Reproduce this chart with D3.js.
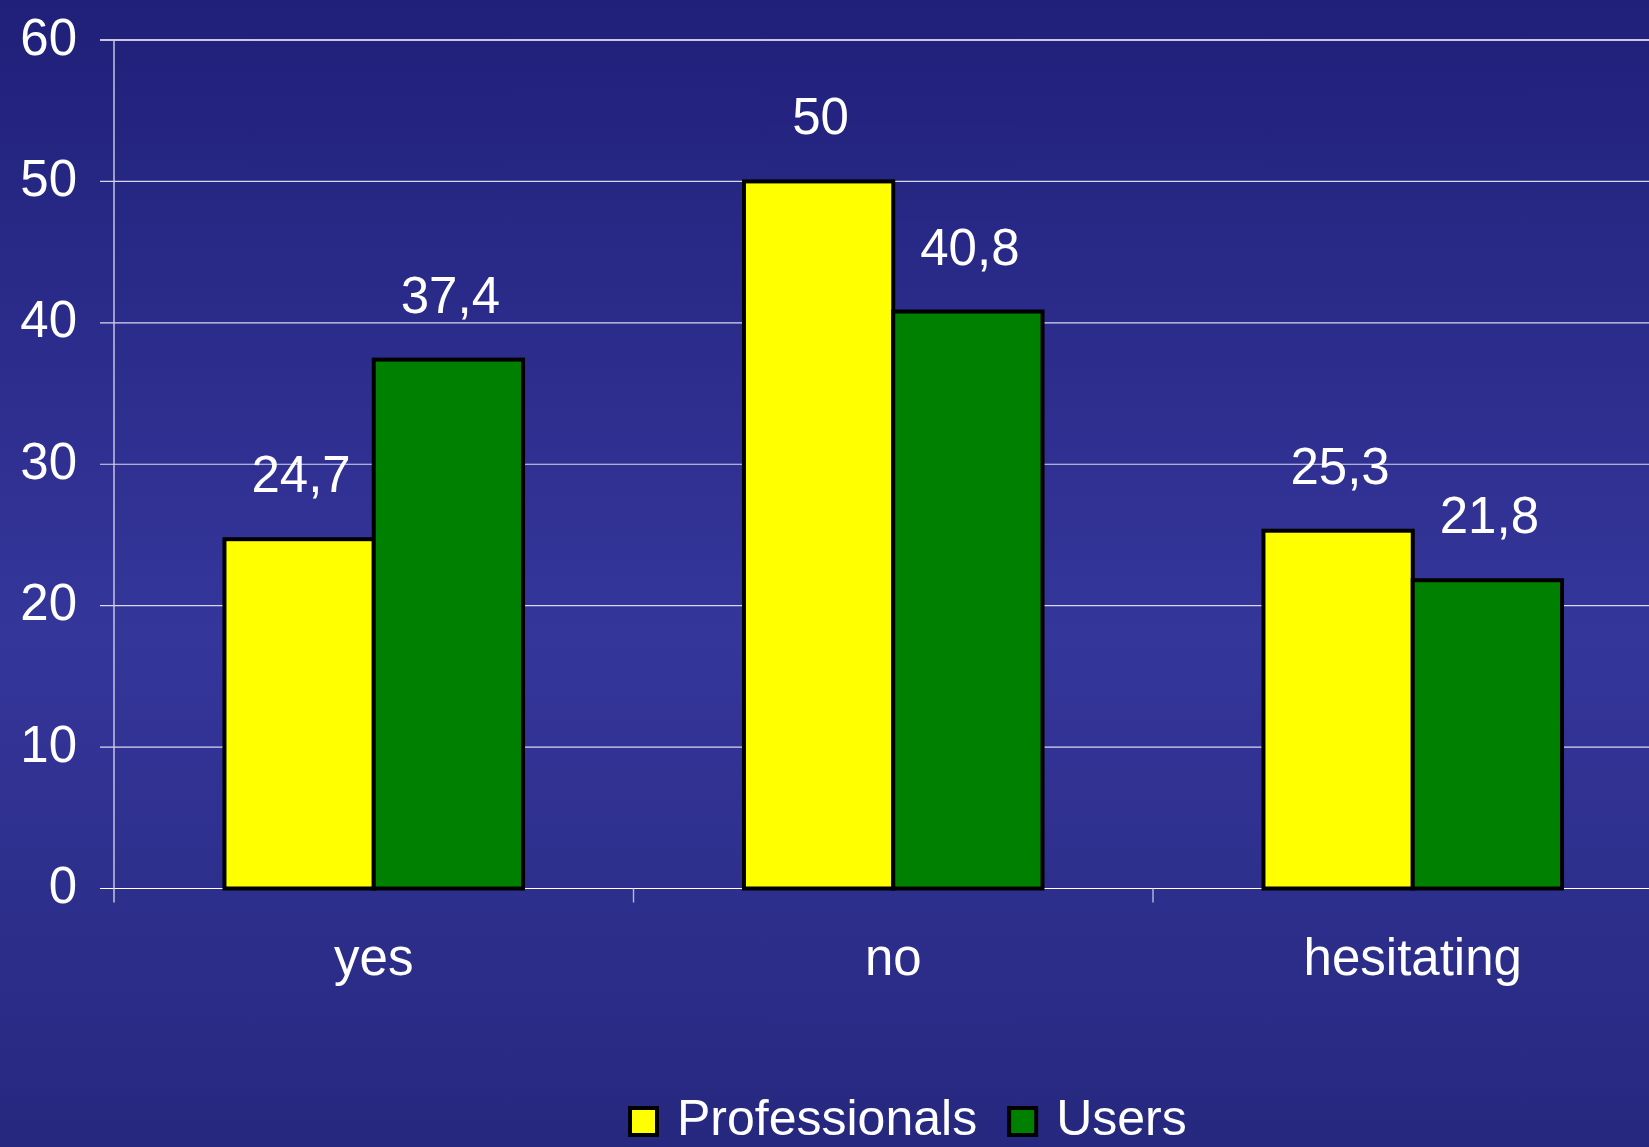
<!DOCTYPE html>
<html>
<head>
<meta charset="utf-8">
<script src="https://cdn.jsdelivr.net/npm/d3@7"></script>
<style>
  html, body { margin: 0; padding: 0; overflow: hidden; }
  body { width: 1649px; height: 1147px; }
  text { font-family: "Liberation Sans", Arial, sans-serif; fill: #ffffff; }
</style>
</head>
<body>
<div id="chart"></div>
<script>
// data
const categories = ["yes", "no", "hesitating"];
const seriesNames = ["Professionals", "Users"];
const professionals = [24.7, 50, 25.3];
const users = [37.4, 40.8, 21.8];
const yTicks = [0, 10, 20, 30, 40, 50, 60];

const W = 1649, H = 1147;
const colors = { Professionals: "#ffff00", Users: "#008000" };

const svg = d3.select("#chart").append("svg")
  .attr("width", W)
  .attr("height", H);

// background gradient, dark at top, lighter in the middle
const grad = svg.append("defs").append("linearGradient")
  .attr("id", "bg")
  .attr("x1", 0).attr("y1", 0).attr("x2", 0).attr("y2", 1);
grad.append("stop").attr("offset", "0%").attr("stop-color", "#20207a");
grad.append("stop").attr("offset", "55%").attr("stop-color", "#35369a");
grad.append("stop").attr("offset", "100%").attr("stop-color", "#26287f");

svg.append("rect").attr("width", W).attr("height", H).attr("fill", "url(#bg)");

// scales
const x0 = d3.scaleBand()
  .domain(categories)
  .range([114, 114 + 3 * 519.5])
  .paddingInner(0)
  .paddingOuter(0);

const x1 = d3.scaleBand()
  .domain(seriesNames)
  .range([0, x0.bandwidth()])
  .paddingOuter(0.74)
  .paddingInner(0);

const y = d3.scaleLinear()
  .domain([0, 60])
  .range([888.5, 40]);

// gridlines
svg.append("g")
  .selectAll("line")
  .data(yTicks)
  .enter()
  .append("line")
  .attr("x1", 100)
  .attr("x2", W)
  .attr("y1", d => y(d))
  .attr("y2", d => y(d))
  .attr("stroke", d => d === 0 || d === 60 ? "#ffffff" : "#d8d8f0")
  .attr("stroke-width", d => d === 60 ? 1.6 : 1.2);

// y axis line
svg.append("line")
  .attr("x1", 114).attr("x2", 114)
  .attr("y1", y(60)).attr("y2", y(0) + 14)
  .attr("stroke", "#cfcfe6")
  .attr("stroke-width", 1.4);

// category tick marks
svg.append("g")
  .selectAll("line")
  .data(categories.slice(1))
  .enter()
  .append("line")
  .attr("x1", d => x0(d))
  .attr("x2", d => x0(d))
  .attr("y1", y(0))
  .attr("y2", y(0) + 14)
  .attr("stroke", "#b8b8dc")
  .attr("stroke-width", 1.4);

// y tick labels
svg.append("g")
  .selectAll("text")
  .data(yTicks)
  .enter()
  .append("text")
  .attr("x", 77)
  .attr("y", d => y(d) + 14.5)
  .attr("text-anchor", "end")
  .style("font-size", "51px")
  .text(d => d);

// bars
const rows = categories.map((c, i) => ({
  cat: c,
  values: [
    { key: "Professionals", value: professionals[i] },
    { key: "Users", value: users[i] }
  ]
}));

const groups = svg.append("g")
  .selectAll("g")
  .data(rows)
  .enter()
  .append("g")
  .attr("transform", d => `translate(${x0(d.cat)},0)`);

groups.selectAll("rect")
  .data(d => d.values)
  .enter()
  .append("rect")
  .attr("x", d => x1(d.key))
  .attr("y", d => y(d.value))
  .attr("width", x1.bandwidth())
  .attr("height", d => y(0) - y(d.value))
  .attr("fill", d => colors[d.key])
  .attr("stroke", "#000000")
  .attr("stroke-width", 4);

// value labels
const fmt = v => String(v).replace(".", ",");
groups.selectAll("text.val")
  .data(d => d.values)
  .enter()
  .append("text")
  .attr("class", "val")
  .attr("x", d => x1(d.key) + x1.bandwidth() / 2 + 2)
  .attr("y", d => y(d.value) - 47)
  .attr("text-anchor", "middle")
  .style("font-size", "51px")
  .text(d => fmt(d.value));

// category labels
svg.append("g")
  .selectAll("text")
  .data(categories)
  .enter()
  .append("text")
  .attr("x", d => x0(d) + x0.bandwidth() / 2)
  .attr("y", 975)
  .attr("text-anchor", "middle")
  .style("font-size", "51px")
  .text(d => d);

// legend (kept just inside the bottom edge)
const legend = svg.append("g").attr("transform", "translate(630,0)");
let lx = 0;
seriesNames.forEach(name => {
  legend.append("rect")
    .attr("x", lx)
    .attr("y", 1108)
    .attr("width", 27)
    .attr("height", 27)
    .attr("fill", colors[name])
    .attr("stroke", "#000000")
    .attr("stroke-width", 4);
  const t = legend.append("text")
    .attr("x", lx + 47)
    .attr("y", 1135)
    .style("font-size", "50px")
    .text(name);
  lx += 47 + t.node().getComputedTextLength() + 32;
});
</script>
</body>
</html>
